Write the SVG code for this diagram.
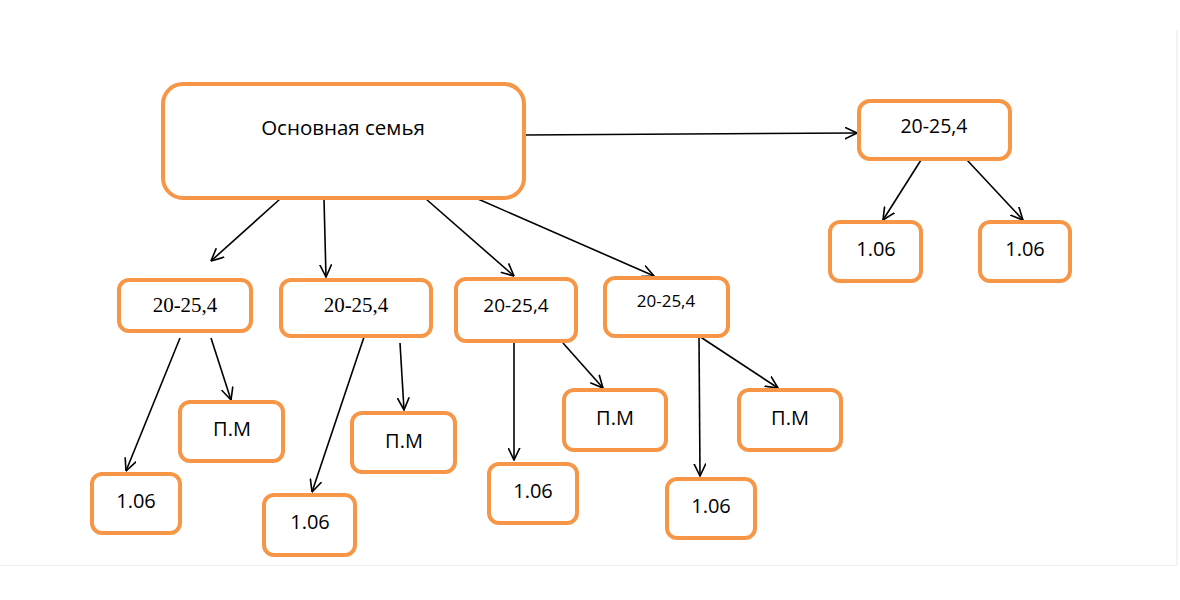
<svg xmlns="http://www.w3.org/2000/svg" width="1180" height="600" viewBox="0 0 1180 600">
<style>
.box{fill:#fff;stroke:#F79646;stroke-width:4}
.t{font-family:"Open Sans","Noto Sans",sans-serif;fill:#000;text-anchor:middle}
.s{font-family:"Liberation Serif","Times New Roman",serif;fill:#000;text-anchor:middle}
.c{stroke:#000;stroke-width:1.6;fill:none;marker-end:url(#arr)}
</style>
<defs>
<marker id="arr" viewBox="0 0 12 12" refX="11.5" refY="6" markerWidth="13" markerHeight="13" markerUnits="userSpaceOnUse" orient="auto">
<path d="M0,0.5 L11.5,6 L0,11.5" fill="none" stroke="#000" stroke-width="1.5"/>
</marker>
</defs>
<rect width="1180" height="600" fill="#fff"/>
<line x1="1177" y1="30" x2="1177" y2="565" stroke="#e6e6e6" stroke-width="1"/>
<line x1="0" y1="565.5" x2="1177" y2="565.5" stroke="#eeeeee" stroke-width="1"/>
<g id="connectors">
<line class="c" x1="524" y1="135" x2="857" y2="133"/>
<line class="c" x1="280" y1="199" x2="211" y2="261"/>
<line class="c" x1="324" y1="199" x2="326" y2="277"/>
<line class="c" x1="426" y1="199" x2="514" y2="276"/>
<line class="c" x1="478" y1="199" x2="654" y2="276"/>
<line class="c" x1="921" y1="160" x2="883" y2="220"/>
<line class="c" x1="967" y1="160" x2="1023" y2="220"/>
<line class="c" x1="180" y1="338" x2="126" y2="471"/>
<line class="c" x1="211" y1="338" x2="231" y2="400"/>
<line class="c" x1="364" y1="337" x2="312" y2="492"/>
<line class="c" x1="400" y1="343" x2="404" y2="410"/>
<line class="c" x1="514" y1="343" x2="514" y2="460"/>
<line class="c" x1="563" y1="343" x2="603" y2="388"/>
<line class="c" x1="699" y1="336" x2="700" y2="476"/>
<line class="c" x1="699" y1="336" x2="778" y2="388"/>
</g>
<g id="main"><rect class="box" x="163" y="84" width="361" height="114" rx="20"/><text class="t" x="343" y="135" font-size="20.5">Основная семья</text></g>
<g id="tr"><rect class="box" x="859" y="101" width="151" height="58" rx="11"/><text class="t" x="934" y="133" font-size="19.5">20-25,4</text></g>
<g id="tr1"><rect class="box" x="830" y="222" width="91" height="59" rx="10"/><text class="t" x="876" y="256" font-size="20">1.06</text></g>
<g id="tr2"><rect class="box" x="980" y="222" width="90" height="59" rx="10"/><text class="t" x="1025" y="256" font-size="20">1.06</text></g>
<g id="b1"><rect class="box" x="119" y="280" width="132" height="51" rx="10"/><text class="s" x="185" y="312" font-size="21">20-25,4</text></g>
<g id="b2"><rect class="box" x="281" y="280" width="150" height="56" rx="10"/><text class="s" x="356" y="312" font-size="21">20-25,4</text></g>
<g id="b3"><rect class="box" x="456" y="279" width="120" height="62" rx="10"/><text class="t" x="516" y="312" font-size="19">20-25,4</text></g>
<g id="b4"><rect class="box" x="605" y="278" width="123" height="58" rx="10"/><text class="t" x="666" y="307" font-size="17">20-25,4</text></g>
<g id="pm1"><rect class="box" x="180" y="402" width="103" height="59" rx="10"/><text class="t" x="232" y="436" font-size="20">П.М</text></g>
<g id="n1"><rect class="box" x="92" y="474" width="88" height="59" rx="10"/><text class="t" x="136" y="508" font-size="20">1.06</text></g>
<g id="n2"><rect class="box" x="264" y="495" width="91" height="60" rx="10"/><text class="t" x="310" y="529" font-size="20">1.06</text></g>
<g id="pm2"><rect class="box" x="352" y="413" width="103" height="59" rx="10"/><text class="t" x="404" y="448" font-size="20">П.М</text></g>
<g id="n3"><rect class="box" x="489" y="464" width="88" height="59" rx="10"/><text class="t" x="533" y="498" font-size="20">1.06</text></g>
<g id="pm3"><rect class="box" x="564" y="390" width="102" height="60" rx="10"/><text class="t" x="615" y="425" font-size="20">П.М</text></g>
<g id="n4"><rect class="box" x="667" y="479" width="88" height="59" rx="10"/><text class="t" x="711" y="513" font-size="20">1.06</text></g>
<g id="pm4"><rect class="box" x="739" y="390" width="102" height="60" rx="10"/><text class="t" x="790" y="425" font-size="20">П.М</text></g>
</svg>
